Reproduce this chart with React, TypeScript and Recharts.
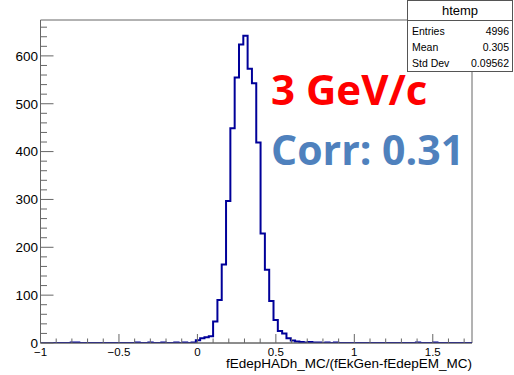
import { ComposedChart, Line, XAxis, YAxis, ReferenceArea } from 'recharts';

// histogram "htemp": 100 bins from -1 to 1.75
const xMin = -1;
const xMax = 1.75;
const binWidth = 0.0275;

const binCounts = [
  0, 0, 0, 0, 0, 0, 0, 1, 1, 0,
  0, 0, 0, 0, 0, 0, 0, 0, 0, 0,
  0, 0, 1, 0, 0, 1, 0, 0, 1, 0,
  0, 1, 0, 1, 0, 1, 6, 10, 12, 14,
  45, 90, 164, 297, 449, 555, 624, 642, 573, 543,
  419, 229, 153, 88, 48, 25, 20, 10, 5, 3,
  2, 1, 2, 1, 1, 0, 1, 0, 1, 0,
  0, 0, 0, 0, 0, 0, 0, 0, 0, 0,
  0, 0, 0, 0, 0, 0, 0, 1, 0, 0,
  0, 1, 0, 0, 0, 0, 0, 0, 0, 0,
];

const xMajorTicks = [-1, -0.5, 0, 0.5, 1, 1.5];
const yMajorTicks = [0, 100, 200, 300, 400, 500, 600];
const yMax = 675;

const statsTitle = 'htemp';
const statsRows = [
  ['Entries', '4996'],
  ['Mean', '0.305'],
  ['Std Dev', '0.09562'],
];

const xTitle = 'fEdepHADh_MC/(fEkGen-fEdepEM_MC)';
const label1 = '3 GeV/c';
const label2 = 'Corr: 0.31';

// step outline points: low edge of each bin, plus the final upper edge
const histData = binCounts.map((c, i) => ({ x: xMin + i * binWidth, count: c }));
histData.push({ x: xMax, count: binCounts[binCounts.length - 1] });

const xTicks: number[] = [];
for (let i = 0; i <= 27; i++) xTicks.push(Math.round((xMin + i * 0.1) * 10) / 10);
const yTicks: number[] = [];
for (let v = 0; v <= 660; v += 20) yTicks.push(v);

const axisColor = '#666';
const font = '"Liberation Sans", Arial, sans-serif';

const fmt = (v: number) => (v < 0 ? '\u2212' + String(-v) : String(v));

function XTick(props: any) {
  const { x, y, payload } = props;
  const major = xMajorTicks.includes(payload.value);
  return (
    <g>
      <line x1={x} y1={y} x2={x} y2={y - (major ? 9 : 4.5)} stroke={axisColor} />
      {major && (
        <text x={x} y={y + 13} textAnchor="middle" fontSize={11.5} fontFamily={font} fill="#000">
          {fmt(payload.value)}
        </text>
      )}
    </g>
  );
}

function YTick(props: any) {
  const { x, y, payload } = props;
  const major = yMajorTicks.includes(payload.value);
  return (
    <g>
      <line x1={x} y1={y} x2={x + (major ? 13 : 6.5)} y2={y} stroke={axisColor} />
      {major && (
        <text x={x - 2.5} y={y + 4.8} textAnchor="end" fontSize={13.5} fontFamily={font} fill="#000">
          {payload.value}
        </text>
      )}
    </g>
  );
}

export default function App() {
  return (
    <div style={{ position: 'absolute', left: 0, top: 0, width: 514, height: 375, background: '#fff' }}>
      <ComposedChart
        width={514}
        height={375}
        data={histData}
        margin={{ top: 20, right: 42, left: 0.5, bottom: 0 }}
      >
        <XAxis
          type="number"
          dataKey="x"
          domain={[xMin, xMax]}
          ticks={xTicks}
          interval={0}
          tickSize={0}
          tickMargin={0}
          tickLine={false}
          axisLine={{ stroke: axisColor }}
          tick={(p: any) => <XTick {...p} />}
          height={32}
          allowDataOverflow
        />
        <YAxis
          type="number"
          domain={[0, yMax]}
          ticks={yTicks}
          interval={0}
          tickSize={0}
          tickMargin={0}
          tickLine={false}
          axisLine={{ stroke: axisColor }}
          tick={(p: any) => <YTick {...p} />}
          width={40}
          allowDataOverflow
        />
        <ReferenceArea x1={xMin} x2={xMax} y1={0} y2={yMax} fill="none" stroke={axisColor} />
        <Line
          type="stepAfter"
          dataKey="count"
          stroke="#000099"
          strokeWidth={2}
          dot={false}
          isAnimationActive={false}
        />
      </ComposedChart>
      <svg
        width={514}
        height={375}
        style={{ position: 'absolute', left: 0, top: 0, pointerEvents: 'none' }}
      >
        <text x={472} y={368} textAnchor="end" fontSize={13.5} fontFamily={font} fill="#000">
          {xTitle}
        </text>
        <rect x={407.5} y={0.5} width={105} height={71} fill="#fff" stroke="#555" />
        <line x1={407.5} y1={20.5} x2={512.5} y2={20.5} stroke="#555" />
        <text x={460} y={15} textAnchor="middle" fontSize={13} fontFamily={font} fill="#000">
          {statsTitle}
        </text>
        {statsRows.map(([k, v], i) => (
          <g key={k}>
            <text x={412} y={35 + i * 16} fontSize={10.5} fontFamily={font} fill="#000">{k}</text>
            <text x={509} y={35 + i * 16} textAnchor="end" fontSize={10.5} fontFamily={font} fill="#000">{v}</text>
          </g>
        ))}
        <text x={271} y={105} fontSize={42} fontWeight="bold" fontFamily='"Open Sans", sans-serif' fill="#ff0000">
          {label1}
        </text>
        <text x={271} y={165} fontSize={41} fontWeight="bold" fontFamily='"Open Sans", sans-serif' fill="#4f81bd">
          {label2}
        </text>
      </svg>
    </div>
  );
}
